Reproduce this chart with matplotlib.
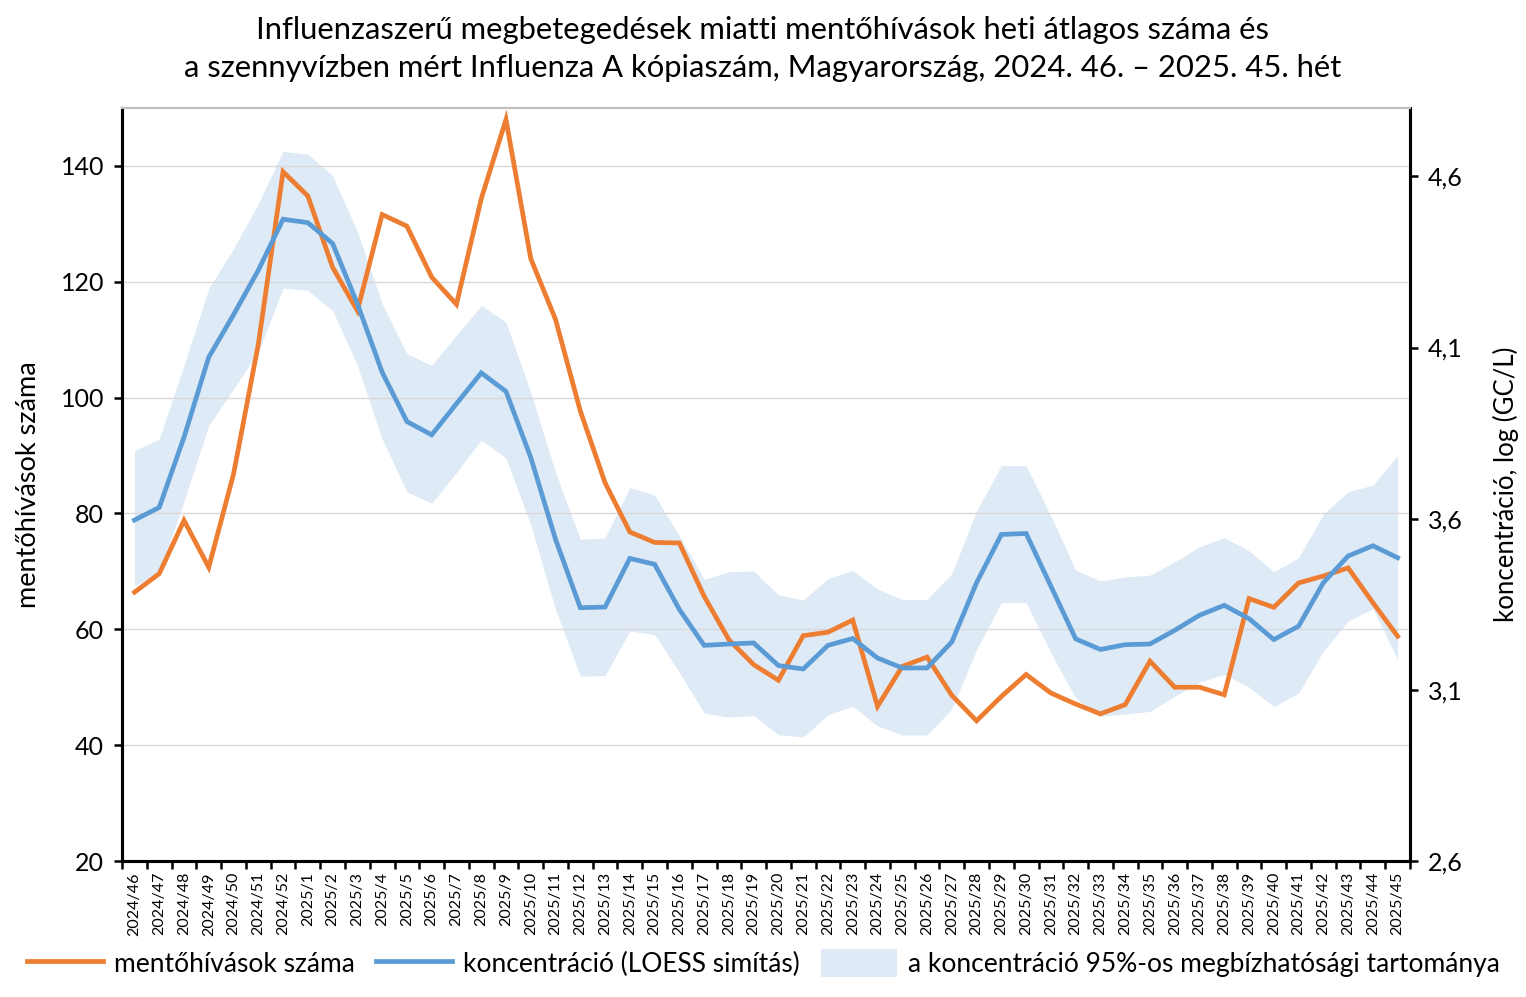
import matplotlib
matplotlib.use("Agg")
import matplotlib.pyplot as plt
from matplotlib.lines import Line2D
from matplotlib.patches import Patch
import numpy as np

plt.rcParams['font.family'] = ['Lato', 'DejaVu Sans']

weeks = ["2024/46", "2024/47", "2024/48", "2024/49", "2024/50", "2024/51", "2024/52"] + \
        ["2025/%d" % w for w in range(1, 46)]

# mentőhívások heti átlagos száma (bal tengely)
calls = [66.4, 69.6, 78.8, 70.7, 86.8, 109.2, 139.0, 134.8, 122.5, 115.0,
         131.6, 129.6, 120.8, 116.1, 134.3, 148.0, 124.0, 113.5, 97.7, 85.3,
         76.8, 75.0, 74.9, 65.7, 58.2, 53.9, 51.2, 58.9, 59.5, 61.6,
         46.7, 53.6, 55.2, 48.6, 44.2, 48.4, 52.2, 49.0, 47.1, 45.4,
         47.0, 54.5, 50.0, 50.0, 48.7, 65.3, 63.8, 68.0, 69.2, 70.6,
         64.6, 58.8]

# koncentráció, LOESS simítás (jobb tengely, log GC/L)
conc = [3.596, 3.633, 3.838, 4.072, 4.196, 4.326, 4.475, 4.465, 4.404, 4.228,
        4.028, 3.884, 3.845, 3.936, 4.026, 3.972, 3.779, 3.540, 3.340, 3.342,
        3.484, 3.467, 3.335, 3.230, 3.234, 3.237, 3.171, 3.161, 3.230, 3.250,
        3.193, 3.164, 3.164, 3.240, 3.413, 3.554, 3.557, 3.403, 3.249, 3.218,
        3.232, 3.234, 3.274, 3.318, 3.347, 3.308, 3.247, 3.286, 3.413, 3.491,
        3.521, 3.486]

conc_upper = [3.799, 3.833, 4.048, 4.272, 4.389, 4.521, 4.673, 4.665, 4.602, 4.438,
              4.228, 4.082, 4.048, 4.136, 4.223, 4.174, 3.969, 3.735, 3.540, 3.544,
              3.691, 3.669, 3.550, 3.423, 3.445, 3.447, 3.378, 3.362, 3.425, 3.449,
              3.394, 3.364, 3.364, 3.440, 3.623, 3.755, 3.755, 3.608, 3.450, 3.418,
              3.430, 3.435, 3.474, 3.518, 3.545, 3.506, 3.445, 3.486, 3.613, 3.679,
              3.698, 3.784]

conc_lower = [3.403, 3.442, 3.652, 3.872, 3.979, 4.087, 4.274, 4.267, 4.208, 4.048,
              3.833, 3.679, 3.645, 3.735, 3.830, 3.777, 3.582, 3.335, 3.140, 3.142,
              3.272, 3.262, 3.151, 3.032, 3.020, 3.025, 2.969, 2.962, 3.027, 3.052,
              2.995, 2.968, 2.968, 3.044, 3.218, 3.355, 3.355, 3.208, 3.076, 3.023,
              3.030, 3.037, 3.081, 3.123, 3.145, 3.108, 3.051, 3.091, 3.213, 3.301,
              3.337, 3.189]

orange = '#ED7D31'
blue = '#5B9BD5'
band = '#DEEAF6'

x = np.arange(len(weeks))

fig = plt.figure(figsize=(15.26, 9.97), dpi=100)
ax1 = fig.add_axes([0.080, 0.1364, 0.844, 0.7553])
ax2 = ax1.twinx()
ax3 = ax1.twinx()

# band lowest, then orange, then blue on top
ax2.set_zorder(1)
ax1.set_zorder(2)
ax3.set_zorder(3)
ax1.patch.set_visible(False)
ax3.patch.set_visible(False)

ax2.fill_between(x, conc_lower, conc_upper, color=band, linewidth=0)
ax1.plot(x, calls, color=orange, linewidth=3.4, solid_joinstyle='miter')
ax3.plot(x, conc, color=blue, linewidth=3.4, solid_joinstyle='miter')

ax1.set_xlim(-0.5, len(weeks) - 0.5)
ax1.set_ylim(20, 150)
ax1.set_yticks(range(20, 141, 20))
for a in (ax2, ax3):
    a.set_ylim(2.6, 4.8)
ax2.set_yticks([2.6, 3.1, 3.6, 4.1, 4.6])
ax2.set_yticklabels(['2,6', '3,1', '3,6', '4,1', '4,6'])
ax3.axis('off')

ax1.grid(axis='y', color='#d9d9d9', linewidth=1)
ax1.set_axisbelow(True)

ax1.set_xticks(x)
ax1.set_xticklabels(weeks, rotation=90, fontsize=11.5)
ax1.set_xticks(np.arange(-0.5, len(weeks), 1), minor=True)
ax1.tick_params(axis='x', which='major', length=0, pad=8)
ax1.tick_params(axis='x', which='minor', length=6, width=1.8, direction='out')
ax1.tick_params(axis='y', length=6, width=1.8, labelsize=18, pad=7)
ax2.tick_params(axis='y', length=6, width=1.8, labelsize=18, pad=7)

for a in (ax1, ax2):
    a.spines['top'].set_color('#bfbfbf')
    a.spines['top'].set_linewidth(1.5)
    for s in ('left', 'right', 'bottom'):
        a.spines[s].set_linewidth(2.2)
        a.spines[s].set_color('black')

ax1.set_ylabel('mentőhívások száma', fontsize=19.5)
ax1.yaxis.set_label_coords(-0.063, 0.5)
ax2.set_ylabel('koncentráció, log (GC/L)', fontsize=18.5)
ax2.yaxis.set_label_coords(1.064, 0.5)

fig.suptitle('Influenzaszerű megbetegedések miatti mentőhívások heti átlagos száma és\n'
             'a szennyvízben mért Influenza A kópiaszám, Magyarország, 2024. 46. – 2025. 45. hét',
             fontsize=22.3, y=0.984, linespacing=1.45)

handles = [Line2D([0], [0], color=orange, linewidth=3.4),
           Line2D([0], [0], color=blue, linewidth=3.4),
           Patch(facecolor=band, edgecolor='none')]
labels = ['mentőhívások száma', 'koncentráció (LOESS simítás)',
          'a koncentráció 95%-os megbízhatósági tartománya']
fig.legend(handles, labels, loc='lower center', ncol=3, frameon=False,
           fontsize=19, bbox_to_anchor=(0.5, -0.004), handlelength=2.9,
           handleheight=1.25, columnspacing=0.8, handletextpad=0.4)

fig.savefig('out.png', dpi=100)
